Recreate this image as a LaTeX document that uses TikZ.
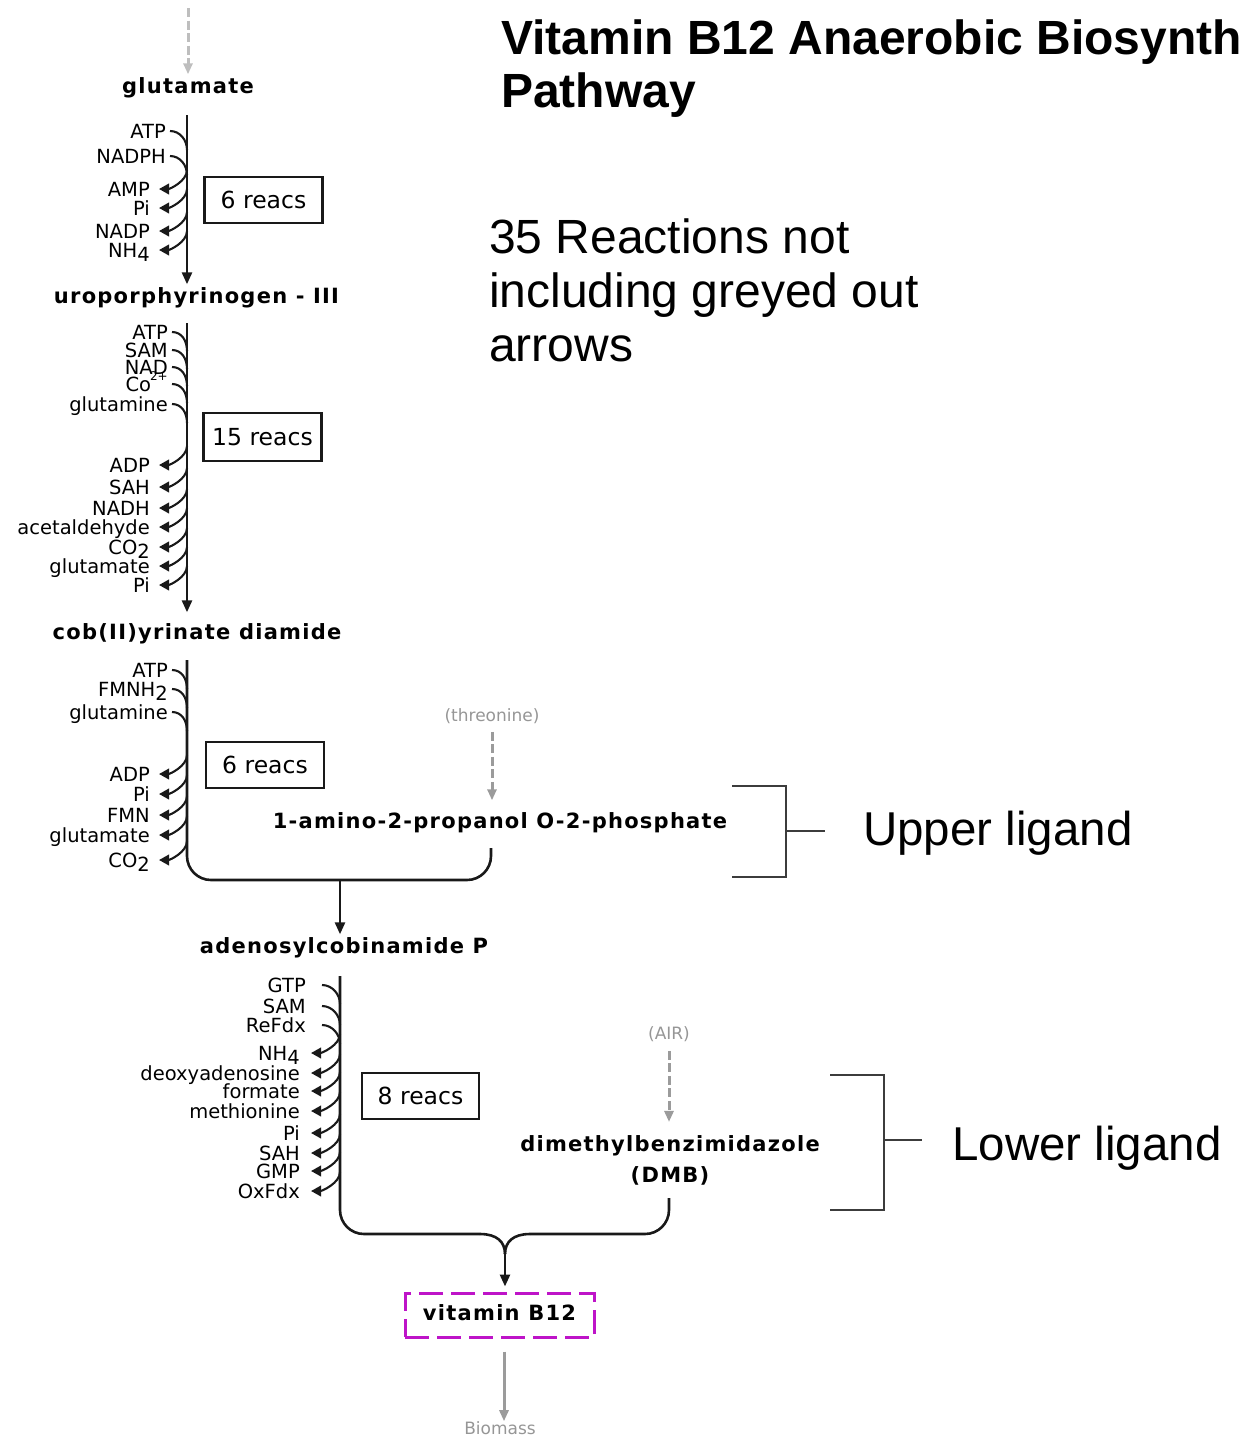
\documentclass[tikz,border=0pt]{standalone}
\usepackage{fontspec}
\setmainfont{DejaVu Sans}
\newfontfamily\metabfont[LetterSpace=6]{DejaVu Sans}
\newfontfamily\headfont{Liberation Sans}
\usetikzlibrary{arrows.meta}

\definecolor{ink}{RGB}{25,25,25}
\definecolor{greyarrow}{RGB}{155,155,155}
\definecolor{palearrow}{RGB}{190,190,190}
\definecolor{greytext}{RGB}{150,150,150}
\definecolor{magentabox}{RGB}{190,20,200}
\definecolor{bracketgrey}{RGB}{60,60,60}

% lowered index digit and raised ionic charge
\newcommand\lowr[1]{\raisebox{-0.22em}{#1}}
\newcommand\chargeup[1]{\kern-1pt\raisebox{0.55em}{\fontsize{12}{12}\selectfont #1}}

\tikzset{
  main/.style={draw=ink, line width=2.6pt},
  mainarrow/.style={main, -{Triangle[length=12pt,width=10pt]}},
  side/.style={draw=ink, line width=2.1pt},
  sidearrow/.style={side, -{Triangle[length=10pt,width=10.5pt]}},
  sidelab/.style={inner sep=0pt, font=\fontsize{19.5}{22}\selectfont, text height=14pt, text depth=0pt},
  metabfontkey/.style={font=\metabfont\bfseries\fontsize{21}{31}\selectfont},
  metab/.style={inner sep=3pt, metabfontkey, text height=16pt, text depth=5pt},
  reacbox/.style={draw=ink, line width=2.5pt, font=\fontsize{23.5}{26}\selectfont, minimum width=118pt, minimum height=46pt, inner sep=0pt},
  faint/.style={text=greytext, font=\fontsize{17}{20}\selectfont, inner sep=0pt},
  extdash/.style={draw=greyarrow, line width=3pt, dash pattern=on 9pt off 3.5pt, -{Triangle[length=11pt,width=9pt]}},
  brace/.style={draw=bracketgrey, line width=1.2pt},
  bigtext/.style={inner sep=0pt, anchor=base west, font=\headfont\fontsize{48}{54}\selectfont},
  titletext/.style={inner sep=0pt, anchor=base west, font=\headfont\bfseries\fontsize{48}{54}\selectfont},
}

% substrates entering a reaction line: #1 line x, #2 label right edge, #3 gap, #4 y/label list
\newcommand\sidein[4]{%
  \foreach \yy/\txt in {#4}{%
    \node[sidelab, anchor=east] (in-\yy) at (#2,\yy) {\txt};
    \draw[side] (in-\yy.east) ++(#3,0) .. controls +(10,0) and +(0,-10) .. (#1,\yy+19);
  }}
% products leaving a reaction line: #1 line x, #2 arrow tip x, #3 gap, #4 y/label list
\newcommand\sideout[4]{%
  \foreach \yy/\txt in {#4}{%
    \node[sidelab, anchor=east, inner xsep=#3] (out-\yy) at (#2,\yy) {\txt};
    \draw[sidearrow] (#1,\yy-19) .. controls +(0,11) and +(11,0) .. (out-\yy.east);
  }}

\begin{document}
\begin{tikzpicture}[x=1pt,y=-1pt]
\useasboundingbox (0,0) rectangle (1242,1436);

% headings
\node[titletext] (title1) at (501,54) {Vitamin B12 Anaerobic Biosynth};
\node[titletext] (title2) at (501,107) {Pathway};
\node[bigtext] (note1) at (489,253) {35 Reactions not};
\node[bigtext] (note2) at (489,307) {including greyed out};
\node[bigtext] (note3) at (489,361) {arrows};

% metabolites
\node[metab] (glu) at (188,88) {glutamate};
\node[metab] (uro) at (196.5,298) {uroporphyrinogen - III};
\node[metab] (cob) at (197,634) {cob(II)yrinate diamide};
\node[metab] (amino) at (500,823) {1-amino-2-propanol O-2-phosphate};
\node[metab] (adocbi) at (344,948) {adenosylcobinamide P};
\node[inner sep=3pt, metabfontkey, align=center] (dmb) at (670,1160) {dimethylbenzimidazole\\(DMB)};
\node[metab, draw=magentabox, line width=3pt, dash pattern=on 24pt off 8pt,
      minimum width=189pt, minimum height=44pt] (vit) at (499.5,1315) {vitamin B12};

% precursors outside the pathway
\node[faint] (thr) at (492,716) {(threonine)};
\node[faint] (air) at (669,1034) {(AIR)};
\node[faint] (bio) at (500,1428) {Biomass};
\draw[extdash, draw=palearrow] (188,8) -- (glu.north);
\draw[extdash, shorten >=9pt] (thr.south) ++(0,8) -- (amino.north -| thr.south);
\draw[extdash, shorten >=10pt] (air.south) ++(0,9) -- (dmb.north -| air.south);
\draw[draw=greyarrow, line width=3pt, -{Triangle[length=11pt,width=9pt]}] (vit.south) ++(4.5,13) -- (bio.north -| 504,0);

% step counts
\node[reacbox] (box1) at (263.5,200) {6 reacs};
\node[reacbox, minimum height=48pt] (box2) at (262.5,437) {15 reacs};
\node[reacbox] (box3) at (265,765) {6 reacs};
\node[reacbox, minimum width=117pt] (box4) at (420.5,1096) {8 reacs};

% glutamate -> uroporphyrinogen III
\coordinate (s1) at (187,115);
\draw[mainarrow] (s1) -- (uro.north -| s1);
\sidein{187}{166}{4}{131/ATP,156/NADPH}
\sideout{187}{159}{9}{189/AMP,208/Pi,231/NADP,250/{NH\lowr{4}}}

% uroporphyrinogen III -> cob(II)yrinate diamide
\coordinate (s2) at (187,323);
\draw[mainarrow, shorten >=8pt] (s2) -- (cob.north -| s2);
\sidein{187}{168}{4}{332/ATP,350/SAM,367/NAD,384/{Co\chargeup{2+}},404/glutamine}
\sideout{187}{159}{9}{465/ADP,487/SAH,508/NADH,527/acetaldehyde,547/{CO\lowr{2}},566/glutamate,585/Pi}

% cob(II)yrinate diamide + aminopropanol phosphate -> adenosylcobinamide P
\coordinate (s3) at (187,660);
\coordinate (s3b) at (491,848);
\coordinate (j3) at (340,880);
\draw[main, rounded corners=24pt] (s3) -- (187,880) -- (491,880) -- (s3b);
\draw[mainarrow] (j3) -- (adocbi.north -| j3);
\sidein{187}{168}{4}{670/ATP,689/{FMNH\lowr{2}},712/glutamine}
\sideout{187}{159}{9}{774/ADP,794/Pi,815/FMN,835/glutamate,860/{CO\lowr{2}}}

% adenosylcobinamide P + DMB -> vitamin B12
\coordinate (s4) at (340,976);
\coordinate (s4b) at (669,1198);
\coordinate (j4) at (505,1254);
\draw[main, rounded corners=24pt] (s4) -- (340,1234) -- (480,1234);
\draw[main] (480,1234) .. controls (497,1234) and (j4|-0,1242) .. (j4);
\draw[main, rounded corners=24pt] (s4b) -- (669,1234) -- (530,1234);
\draw[main] (530,1234) .. controls (513,1234) and (j4|-0,1242) .. (j4);
\draw[mainarrow, shorten >=5pt] ([yshift=2pt]j4) -- (vit.north -| j4);
\sidein{340}{306}{16}{985/GTP,1006/SAM,1025/ReFdx}
\sideout{340}{311}{11}{1053/{NH\lowr{4}},1073/deoxyadenosine,1091/formate,1111/methionine,1133/Pi,1153/SAH,1171/GMP,1191/OxFdx}

% ligand brackets
\draw[brace] (732,786) -- (786,786) -- (786,877) -- (732,877);
\draw[brace] (786,831) -- (825,831);
\node[bigtext, font=\headfont\fontsize{47.5}{54}\selectfont] (upper) at (863,845) {Upper ligand};
\draw[brace] (830,1075) -- (884,1075) -- (884,1210) -- (830,1210);
\draw[brace] (884,1140) -- (922,1140);
\node[bigtext, font=\headfont\fontsize{47.5}{54}\selectfont] (lower) at (952,1160) {Lower ligand};
\end{tikzpicture}
\end{document}
